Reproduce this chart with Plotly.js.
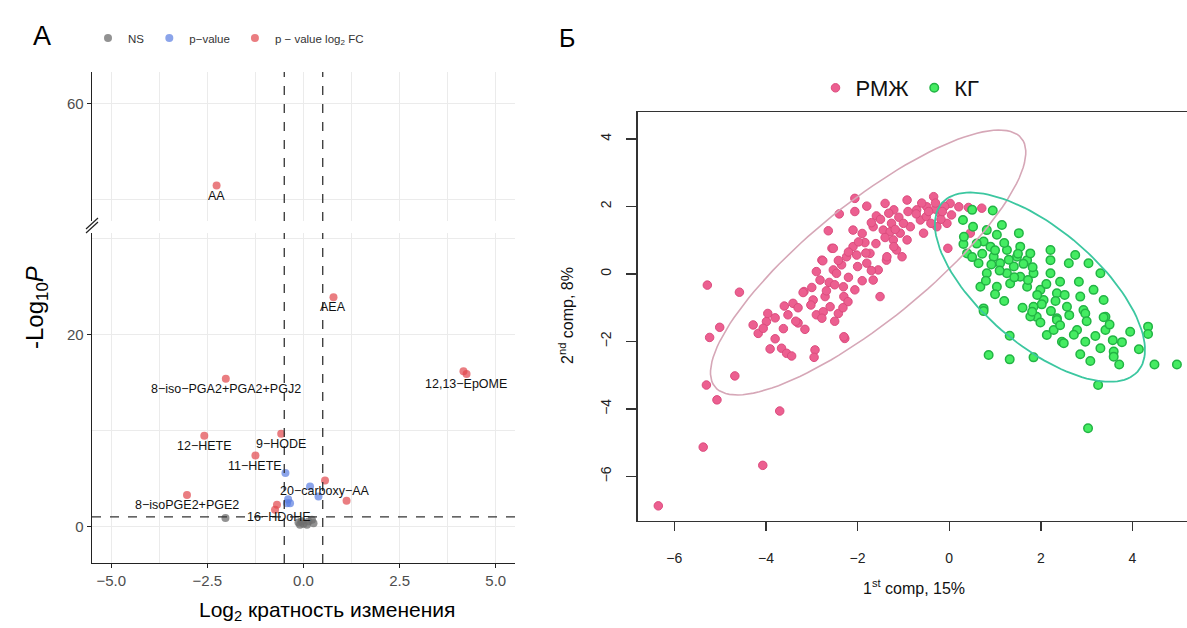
<!DOCTYPE html>
<html>
<head>
<meta charset="utf-8">
<script src="https://cdn.plot.ly/plotly-3.0.1.min.js"></script>
<style>html,body{margin:0;padding:0;background:#fff;}#chart{width:1187px;height:628px;}</style>
</head>
<body>
<div id="chart"></div>
<script>
// ---------------- Panel A: volcano plot data ----------------
// NS (grey)
const nsX = [-2.03, -0.13, 0.00, 0.13, 0.26, -0.09, 0.09, 0.22, -0.05];
const nsY = [0.88, 0.42, 0.28, 0.52, 0.35, 0.18, 0.18, 0.70, 0.55];
// p-value only (blue)
const pvX = [-0.47, 0.17, 0.39, -0.43, -0.35, -0.40];
const pvY = [5.57, 4.18, 3.13, 2.44, 2.44, 2.85];
// p-value and log2 FC (red)
const fcX = [-2.26, 0.78, 4.16, 4.24, -2.02, -2.58, -0.58, -1.25, 0.56, 1.12, -3.03, -0.69, -0.74];
const fcY = [51.5, 23.9, 16.2, 15.9, 15.4, 9.47, 9.68, 7.4, 4.8, 2.68, 3.3, 2.27, 1.74];
const fcLabel = ['AA', 'AEA', '12,13\u2212EpOME', '', '8\u2212iso\u2212PGA2+PGA2+PGJ2', '12\u2212HETE',
  '9\u2212HODE', '11\u2212HETE', '20\u2212carboxy\u2212AA', '', '8\u2212isoPGE2+PGE2', '', '16\u2212HDoHE'];
const xTicksA = [-5, -2.5, 0, 2.5, 5];
const xTickTextA = ['\u22125.0', '\u22122.5', '0.0', '2.5', '5.0'];
const FC_CUTOFF = 0.5;
const LOGP_CUTOFF = 1;
const BREAK_AT = 40;

// ---------------- Panel B: PCA scores ----------------
const pinkX = [-5.28,-4.58,-5.01,-5.23,-4.28,-4.17,-3.99,-4.06,-3.91,-3.66,-3.55,-3.44,-3.15,-2.93,-2.95,-2.28,-3.52,-2.90,-2.42,-2.75,
  -4.68,-5.30,-5.07,-3.70,-5.37,-4.07,-6.35,-3.96,-3.17,-2.78,-2.56,-2.30,-2.30,-1.51,-2.78,-3.30,-3.80,-3.60,-3.41,-2.60,
  -2.06,-2.06,-1.80,-2.40,-2.64,-2.10,-1.40,-1.59,-2.53,-1.84,-2.24,-2.02,-2.76,-2.35,-2.90,-2.53,-3.19,-2.97,-2.71,-2.31,
  -2.06,-2.21,-1.66,-1.80,-1.37,-1.22,-1.44,-1.26,-1.15,-1.66,-2.10,-2.46,-2.82,-1.73,-1.55,-1.29,
  -0.34,-0.49,-0.20,0.02,0.21,0.42,0.71,-0.63,-0.85,-1.07,-1.21,-0.92,-1.36,-0.27,-0.05,-0.56,0.46,-0.03,-0.71,-1.21,-0.92,-1.03,
  -3.30,-3.00,-2.62,-2.42,-2.20,-1.98,-1.90,-1.70,-1.50,-1.32,-1.10,-0.90,-0.72,-0.50,-0.30,-0.18,-0.40,-0.10,-0.60,-1.00,
  -1.18,-1.40,-1.60,-1.82,-2.00,-2.20,-2.50,-2.68,-3.02,-3.35,-3.62,-3.80,-2.50,-2.32,-1.90,-1.70,-0.30,-0.15,0.05,-0.45];
const pinkY = [-0.33,-0.54,-1.58,-1.88,-1.51,-1.76,-1.41,-1.61,-2.22,-2.20,-2.35,-2.43,-1.64,-2.25,-2.47,-1.91,-1.21,-1.21,-1.17,-1.12,
  -3.02,-3.29,-3.73,-4.06,-5.13,-5.67,-6.87,-1.17,-0.52,0.41,0.76,-0.67,-1.86,-0.67,-1.31,-1.45,-1.30,-0.95,-0.87,-0.97,
  2.24,1.85,2.01,1.78,1.28,1.30,2.09,1.72,0.76,0.93,0.51,0.56,0.39,0.27,0.07,0.12,-0.55,-0.77,-0.67,-0.38,
  -0.47,-0.82,-0.18,0.32,0.41,1.01,1.30,1.50,0.71,1.40,0.81,0.02,-0.18,0.61,0.12,1.25,
  2.29,1.99,1.80,2.09,1.99,1.97,1.95,1.60,1.40,1.21,0.81,1.01,0.51,1.40,1.50,1.21,1.21,0.76,1.90,1.90,2.19,0.51,
  -1.00,-0.40,-0.25,0.40,0.65,0.95,1.20,1.52,1.62,1.80,1.68,1.85,1.78,1.70,1.92,1.62,1.50,2.00,2.10,1.50,
  1.32,1.08,0.90,0.62,0.22,-0.10,-0.32,-0.50,-0.92,-1.40,-1.62,-1.92,-1.40,-1.00,-0.20,0.10,2.10,1.85,1.75,1.85];
const greenX = [1.15,0.31,0.39,0.75,1.04,1.52,1.55,1.26,0.97,0.64,0.82,1.11,1.41,1.70,1.77,1.84,2.21,2.21,2.61,2.75,
  3.04,3.30,2.21,2.42,2.83,3.15,3.37,2.86,1.99,1.70,1.33,1.04,0.68,0.75,1.84,2.06,2.35,2.57,2.93,3.41,
  2.35,1.91,1.48,0.90,1.26,1.55,0.50,0.95,
  0.86,1.32,1.84,1.32,2.13,2.35,1.99,1.77,2.28,2.46,2.50,2.79,2.97,2.86,3.08,3.19,3.41,3.37,2.97,3.57,
  3.77,3.59,3.59,3.71,3.95,4.14,4.34,4.34,4.48,4.97,3.25,3.03,0.75,1.81,
  0.60,0.72,0.92,1.00,1.20,1.10,1.30,1.42,1.50,1.62,1.72,1.82,1.92,2.02,2.12,2.22,2.32,2.42,2.52,2.62,
  2.72,1.00,0.80,1.20,1.60,3.00,3.30,3.50,0.52,0.82,0.32,0.50,0.30];
const greenY = [1.45,0.89,0.61,0.96,1.16,1.21,0.81,0.71,0.51,0.32,0.02,0.32,0.22,0.41,0.61,0.02,0.71,0.41,0.32,0.56,
  0.32,0.02,0.02,-0.23,-0.23,-0.47,-0.77,-0.67,-0.47,-0.38,-0.28,-0.38,-0.38,-1.02,-0.97,-0.77,-0.57,-0.97,-1.07,-1.27,
  -1.31,-1.27,0.51,0.81,0.02,-0.08,1.90,1.88,
  -2.40,-2.53,-2.47,-1.83,-1.81,-1.36,-1.44,-1.26,-1.66,-2.01,-2.05,-1.66,-2.01,-2.38,-2.58,-1.84,-1.66,-1.28,-1.17,-1.96,
  -2.02,-2.30,-2.45,-2.68,-1.71,-2.23,-1.56,-1.78,-2.68,-2.68,-3.29,-4.57,-1.10,-1.12,
  0.90,0.60,0.28,0.70,0.92,0.10,0.42,-0.10,0.60,0.30,-0.18,0.20,-0.62,-0.90,-0.30,-1.10,-0.80,-1.52,-0.62,-1.22,
  -1.80,-0.60,-0.20,-0.80,-1.00,-1.40,-2.20,-1.50,1.40,1.30,1.10,0.50,1.60];
// confidence ellipses [cx, cy, semi-major, semi-minor, angle deg]
const ellipsePink = [-1.77, 0.34, 5.0, 1.5, 49.5];
const ellipseGreen = [1.98, -0.39, 3.32, 1.45, -53.5];
const ticksB = [-6, -4, -2, 0, 2, 4];
const tickTextB = ['\u22126', '\u22124', '\u22122', '0', '2', '4'];

// ---------------- helpers ----------------
const W = 1187, H = 628;
const px = v => v / W;
const py = v => 1 - v / H;
const FONT = 'Liberation Sans, Arial, Helvetica, sans-serif';

function ellipsePath(p) {
  const [cx, cy, a, b, deg] = p;
  const t = deg * Math.PI / 180;
  const xs = [], ys = [];
  for (let i = 0; i <= 120; i++) {
    const u = 2 * Math.PI * i / 120;
    const ex = a * Math.cos(u), ey = b * Math.sin(u);
    xs.push(cx + ex * Math.cos(t) - ey * Math.sin(t));
    ys.push(cy + ex * Math.sin(t) + ey * Math.cos(t));
  }
  return {x: xs, y: ys};
}
function split(xs, ys, upper) {
  const ox = [], oy = [];
  xs.forEach((v, i) => { if ((ys[i] > BREAK_AT) === upper) { ox.push(v); oy.push(ys[i]); } });
  return {x: ox, y: oy};
}

const colNS = 'rgba(110,110,110,0.75)';
const colPV = 'rgba(90,125,225,0.7)';
const colFC = 'rgba(225,70,75,0.7)';
const mA = 8;

const traces = [];
function addVolcano(xs, ys, name, color) {
  const lo = split(xs, ys, false), hi = split(xs, ys, true);
  traces.push({type: 'scatter', mode: 'markers', x: lo.x, y: lo.y, xaxis: 'x', yaxis: 'y', name: name,
    legend: 'legend', marker: {color: color, size: mA}});
  if (hi.x.length) traces.push({type: 'scatter', mode: 'markers', x: hi.x, y: hi.y, xaxis: 'x2', yaxis: 'y2',
    name: name, showlegend: false, marker: {color: color, size: mA}});
}
addVolcano(nsX, nsY, 'NS', colNS);
addVolcano(pvX, pvY, 'p\u2212value', colPV);
addVolcano(fcX, fcY, 'p \u2212 value log<sub>2</sub> FC', colFC);

// Panel B
traces.push({type: 'scatter', mode: 'markers', x: pinkX, y: pinkY, xaxis: 'x3', yaxis: 'y3', name: 'РМЖ',
  legend: 'legend2', marker: {color: '#ec5f90', size: 8.5, line: {color: '#dc4c7e', width: 1}}});
traces.push({type: 'scatter', mode: 'markers', x: greenX, y: greenY, xaxis: 'x3', yaxis: 'y3', name: 'КГ',
  legend: 'legend2', marker: {color: '#45ec62', size: 8.5, line: {color: '#22b444', width: 1.5}}});
const eP = ellipsePath(ellipsePink), eG = ellipsePath(ellipseGreen);
traces.push({type: 'scatter', mode: 'lines', x: eP.x, y: eP.y, xaxis: 'x3', yaxis: 'y3', showlegend: false,
  line: {color: '#d6a7b7', width: 1.6}});
traces.push({type: 'scatter', mode: 'lines', x: eG.x, y: eG.y, xaxis: 'x3', yaxis: 'y3', showlegend: false,
  line: {color: '#3cc7a0', width: 1.8}});

// labels for panel A
const labelShift = {
  'AA': [0, -11], 'AEA': [0, -10], '12,13\u2212EpOME': [3, -13], '8\u2212iso\u2212PGA2+PGA2+PGJ2': [0, -10],
  '12\u2212HETE': [0, -10], '9\u2212HODE': [0, -10], '11\u2212HETE': [0, -10], '20\u2212carboxy\u2212AA': [0, -10],
  '8\u2212isoPGE2+PGE2': [0, -10], '16\u2212HDoHE': [4, -7]
};
const annotations = [];
fcLabel.forEach((lab, i) => {
  if (!lab) return;
  const up = fcY[i] > BREAK_AT;
  const s = labelShift[lab] || [0, -10];
  annotations.push({x: fcX[i], y: fcY[i], xref: up ? 'x2' : 'x', yref: up ? 'y2' : 'y', text: lab,
    xanchor: 'center', yanchor: 'middle',
    showarrow: false, xshift: s[0], yshift: s[1], font: {family: FONT, size: 12.5, color: '#111'}});
});
function paperText(x, y, text, size, color, angle) {
  return {x: px(x), y: py(y), xref: 'paper', yref: 'paper', text: text, showarrow: false,
    xanchor: 'center', yanchor: 'middle', textangle: angle || 0, font: {family: FONT, size: size, color: color}};
}
annotations.push(
  paperText(42, 36, 'А', 27, '#000'),
  paperText(567, 38, 'Б', 25, '#000'),
  paperText(36, 308, '-Log<sub>10</sub><i>P</i>', 24, '#000', -90),
  paperText(327, 611, 'Log<sub>2</sub> кратность изменения', 21, '#000'),
  paperText(914, 587, '1<sup>st</sup> comp, 15%', 16, '#111'),
  paperText(566, 316, '2<sup>nd</sup> comp, 8%', 16, '#111', -90)
);

const dashLine = {color: '#333', width: 1.3, dash: 'dash'};
const shapes = [
  {type: 'line', xref: 'x', yref: 'y domain', x0: -FC_CUTOFF, x1: -FC_CUTOFF, y0: 0, y1: 1, line: dashLine},
  {type: 'line', xref: 'x', yref: 'y domain', x0: FC_CUTOFF, x1: FC_CUTOFF, y0: 0, y1: 1, line: dashLine},
  {type: 'line', xref: 'x2', yref: 'y2 domain', x0: -FC_CUTOFF, x1: -FC_CUTOFF, y0: 0, y1: 1, line: dashLine},
  {type: 'line', xref: 'x2', yref: 'y2 domain', x0: FC_CUTOFF, x1: FC_CUTOFF, y0: 0, y1: 1, line: dashLine},
  {type: 'line', xref: 'x domain', yref: 'y', x0: 0, x1: 1, y0: LOGP_CUTOFF, y1: LOGP_CUTOFF, line: dashLine},
  // axis break marks
  {type: 'line', xref: 'paper', yref: 'paper', x0: px(86), y0: py(233), x1: px(98), y1: py(222), line: {color: '#222', width: 1.2}},
  {type: 'line', xref: 'paper', yref: 'paper', x0: px(86), y0: py(229), x1: px(98), y1: py(218), line: {color: '#222', width: 1.2}}
];

const gridC = '#ebebeb';
const axA = {
  showline: true, linecolor: '#222', linewidth: 1.4, ticks: 'outside', ticklen: 4, tickcolor: '#222',
  tickwidth: 1.2, zeroline: false, showgrid: true, gridcolor: gridC, gridwidth: 1,
  tickfont: {family: FONT, size: 15, color: '#4d4d4d'}
};
const layout = {
  width: W, height: H, margin: {l: 0, r: 0, t: 0, b: 0}, paper_bgcolor: '#fff', plot_bgcolor: '#fff',
  showlegend: true, hovermode: false,
  xaxis: Object.assign({}, axA, {domain: [px(92), px(515)], range: [-5.5, 5.5], anchor: 'y',
    tickmode: 'array', tickvals: xTicksA, ticktext: xTickTextA,
    minor: {tickmode: 'array', tickvals: [-3.75, -1.25, 1.25, 3.75], showgrid: true, gridcolor: gridC, ticks: ''}}),
  xaxis2: Object.assign({}, axA, {domain: [px(92), px(515)], range: [-5.5, 5.5], anchor: 'y2', matches: 'x',
    showline: false, ticks: '', showticklabels: false, tickmode: 'array', tickvals: xTicksA,
    minor: {tickmode: 'array', tickvals: [-3.75, -1.25, 1.25, 3.75], showgrid: true, gridcolor: gridC, ticks: ''}}),
  yaxis: Object.assign({}, axA, {domain: [py(563), py(233)], range: [-3.8, 30.6], anchor: 'x',
    tickmode: 'array', tickvals: [0, 20],
    minor: {tickmode: 'array', tickvals: [10, 30], showgrid: true, gridcolor: gridC, ticks: ''}}),
  yaxis2: Object.assign({}, axA, {domain: [py(221), py(72)], range: [47.8, 63.3], anchor: 'x2',
    tickmode: 'array', tickvals: [60],
    minor: {tickmode: 'array', tickvals: [50], showgrid: true, gridcolor: gridC, ticks: ''}}),
  xaxis3: {domain: [px(637.7), 1], range: [-6.80, 5.19], anchor: 'y3', showgrid: false, zeroline: false,
    showline: true, mirror: true, linecolor: '#333', linewidth: 1.6, ticks: 'outside', ticklen: 9,
    tickwidth: 1.4, tickcolor: '#333', tickmode: 'array', tickvals: ticksB, ticktext: tickTextB,
    ticklabelstandoff: 15, tickfont: {family: FONT, size: 14, color: '#222'}},
  yaxis3: {domain: [py(520.7), py(112.3)], range: [-7.31, 4.79], anchor: 'x3', showgrid: false, zeroline: false,
    showline: true, linecolor: '#333', linewidth: 1.6, ticks: 'outside', ticklen: 10, tickwidth: 1.4,
    tickcolor: '#333', tickmode: 'array', tickvals: ticksB, ticktext: tickTextB, tickangle: -90,
    ticklabelstandoff: 10, tickfont: {family: FONT, size: 14, color: '#222'}},
  legend: {orientation: 'h', x: px(88), y: py(38), xanchor: 'left', yanchor: 'middle',
    bgcolor: 'rgba(0,0,0,0)', font: {family: FONT, size: 11.5, color: '#333'}, itemwidth: 30, tracegroupgap: 0},
  legend2: {orientation: 'h', x: px(900), y: py(88), xanchor: 'center', yanchor: 'middle',
    bgcolor: 'rgba(0,0,0,0)', font: {family: FONT, size: 22, color: '#111'}, itemwidth: 30},
  shapes: shapes, annotations: annotations
};
Plotly.newPlot('chart', traces, layout, {displayModeBar: false, staticPlot: true});
</script>
</body>
</html>
